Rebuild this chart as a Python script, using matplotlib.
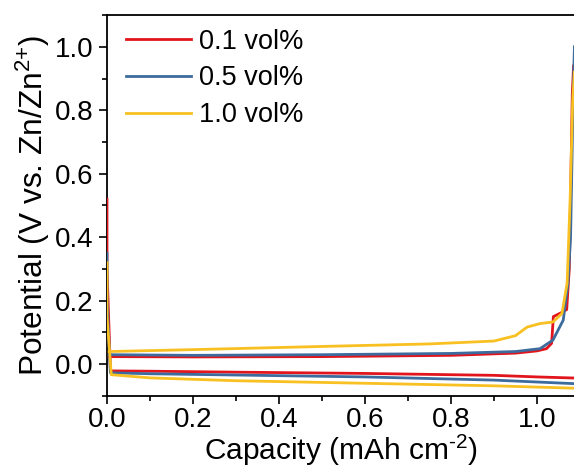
import matplotlib
matplotlib.use("Agg")
import matplotlib.pyplot as plt
from matplotlib.ticker import MultipleLocator

plt.rcParams['font.family'] = ['Liberation Sans', 'DejaVu Sans']
plt.rcParams['mathtext.fontset'] = 'custom'
plt.rcParams['mathtext.rm'] = 'Liberation Sans'
plt.rcParams['mathtext.it'] = 'Liberation Sans'

labels = ['0.1 vol%', '0.5 vol%', '1.0 vol%']
colors = ['#e2141c', '#3d6b9e', '#f8c020']

# plating branch (capacity, potential)
plate_cap = [
    [0.0, 0.0, 0.008, 0.1, 0.3, 0.6, 0.9, 1.0, 1.1],
    [0.0, 0.0, 0.008, 0.1, 0.3, 0.6, 0.9, 1.0, 1.1],
    [0.0, 0.0, 0.01, 0.1, 0.3, 0.6, 0.9, 1.0, 1.1],
]
plate_pot = [
    [0.52, 0.30, -0.021, -0.022, -0.025, -0.029, -0.035, -0.040, -0.044],
    [0.35, 0.20, -0.027, -0.030, -0.034, -0.040, -0.050, -0.056, -0.062],
    [0.32, 0.15, -0.033, -0.043, -0.052, -0.060, -0.068, -0.072, -0.076],
]

# stripping branch (capacity, potential)
strip_cap = [
    [0.005, 0.2, 0.5, 0.8, 0.95, 1.0, 1.022, 1.034, 1.038, 1.053, 1.069, 1.075, 1.079, 1.082, 1.085],
    [0.005, 0.2, 0.5, 0.8, 0.95, 1.007, 1.037, 1.061, 1.072, 1.078, 1.081, 1.084, 1.086, 1.087],
    [0.005, 0.2, 0.5, 0.75, 0.9, 0.95, 0.977, 1.007, 1.037, 1.058, 1.07, 1.077, 1.083, 1.087],
]
strip_pot = [
    [0.024, 0.023, 0.024, 0.028, 0.035, 0.042, 0.049, 0.066, 0.150, 0.160, 0.172, 0.30, 0.60, 0.85, 0.94],
    [0.030, 0.028, 0.030, 0.034, 0.040, 0.049, 0.076, 0.139, 0.255, 0.40, 0.62, 0.85, 0.95, 1.00],
    [0.040, 0.046, 0.056, 0.064, 0.073, 0.090, 0.117, 0.128, 0.133, 0.160, 0.255, 0.52, 0.83, 0.92],
]

fig = plt.figure(figsize=(5.74, 4.69), dpi=100)
ax = fig.add_axes([0.1864, 0.1557, 0.8136, 0.8123])

for i in range(3):
    ax.plot(plate_cap[i], plate_pot[i], color=colors[i], lw=2.0, zorder=3)
    ax.plot(strip_cap[i], strip_pot[i], color=colors[i], lw=2.0, zorder=3, label=labels[i])

ax.set_xlim(0, 1.086)
ax.set_ylim(-0.1, 1.1)
ax.xaxis.set_major_locator(MultipleLocator(0.2))
ax.xaxis.set_minor_locator(MultipleLocator(0.1))
ax.yaxis.set_major_locator(MultipleLocator(0.2))
ax.yaxis.set_minor_locator(MultipleLocator(0.1))
ax.xaxis.set_major_formatter(plt.FuncFormatter(lambda v, p: f'{v:.1f}'))
ax.yaxis.set_major_formatter(plt.FuncFormatter(lambda v, p: f'{v:.1f}'))
ax.tick_params(which='major', direction='out', length=6, width=1.2, labelsize=20, pad=4)
ax.tick_params(axis='x', which='major', pad=2)
ax.tick_params(which='minor', direction='out', length=3.5, width=1.2)
ax.spines['right'].set_visible(False)
for s in ['left', 'bottom', 'top']:
    ax.spines[s].set_linewidth(1.3)

ax.set_xlabel(r'Capacity (mAh cm$^{\text{-}2}$)', fontsize=21.5, labelpad=0)
ax.set_ylabel(r'Potential (V vs. Zn/Zn$^{2{+}}$)', fontsize=22.8, labelpad=2)

ax.legend(loc='upper left', bbox_to_anchor=(0.011, 1.0), frameon=False, fontsize=19.5,
          handlelength=2.4, handletextpad=0.3, labelspacing=0.4, borderaxespad=0.1)

fig.savefig('out.png', dpi=100)
